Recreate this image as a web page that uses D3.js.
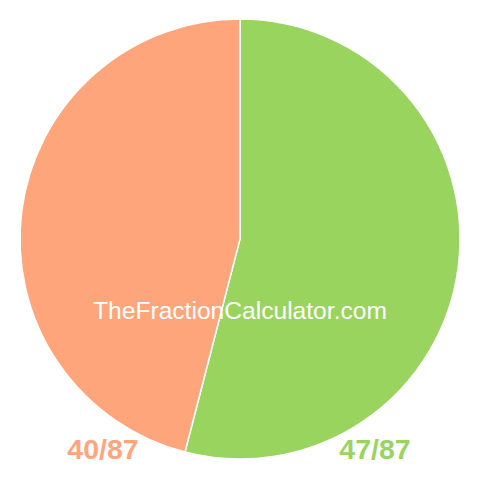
<!DOCTYPE html>
<html>
<head>
<meta charset="utf-8">
<script src="https://cdn.jsdelivr.net/npm/d3@7"></script>
<style>
  body { margin: 0; background: #fff; }
</style>
</head>
<body>
<svg id="drawing_region"></svg>
<script>
const labels = ['47/87', '40/87'];
const values = [47, 40];
const colors = ['#99d45f', '#ffa57b'];

const width = 480, height = 480;
const cx = 240, cy = 239, radius = 220;

const svg = d3.select('#drawing_region')
    .attr('width', width)
    .attr('height', height);

const chart = svg.append('g')
    .attr('transform', `translate(${cx}, ${cy})`);

const pie = d3.pie().sort(null).value(d => d);
const arc = d3.arc().innerRadius(0).outerRadius(radius);

chart.selectAll('path')
    .data(pie(values))
    .enter()
    .append('path')
    .attr('d', arc)
    .attr('fill', (d, i) => colors[i])
    .attr('stroke', '#fff')
    .attr('stroke-width', 1.5);

svg.append('text')
    .attr('x', 240)
    .attr('y', 319)
    .attr('text-anchor', 'middle')
    .attr('font-family', 'Liberation Sans, Arial, sans-serif')
    .attr('font-size', '24.6px')
    .attr('fill', '#fff')
    .text('TheFractionCalculator.com');

// labels under the pie
const label_x = [375, 103];
svg.selectAll('.frac')
    .data(labels)
    .enter()
    .append('text')
    .attr('class', 'frac')
    .attr('x', (d, i) => label_x[i])
    .attr('y', 459)
    .attr('text-anchor', 'middle')
    .attr('font-family', 'Liberation Sans, Arial, sans-serif')
    .attr('font-weight', 'bold')
    .attr('font-size', '28.5px')
    .attr('fill', (d, i) => colors[i])
    .text(d => d);
</script>
</body>
</html>
